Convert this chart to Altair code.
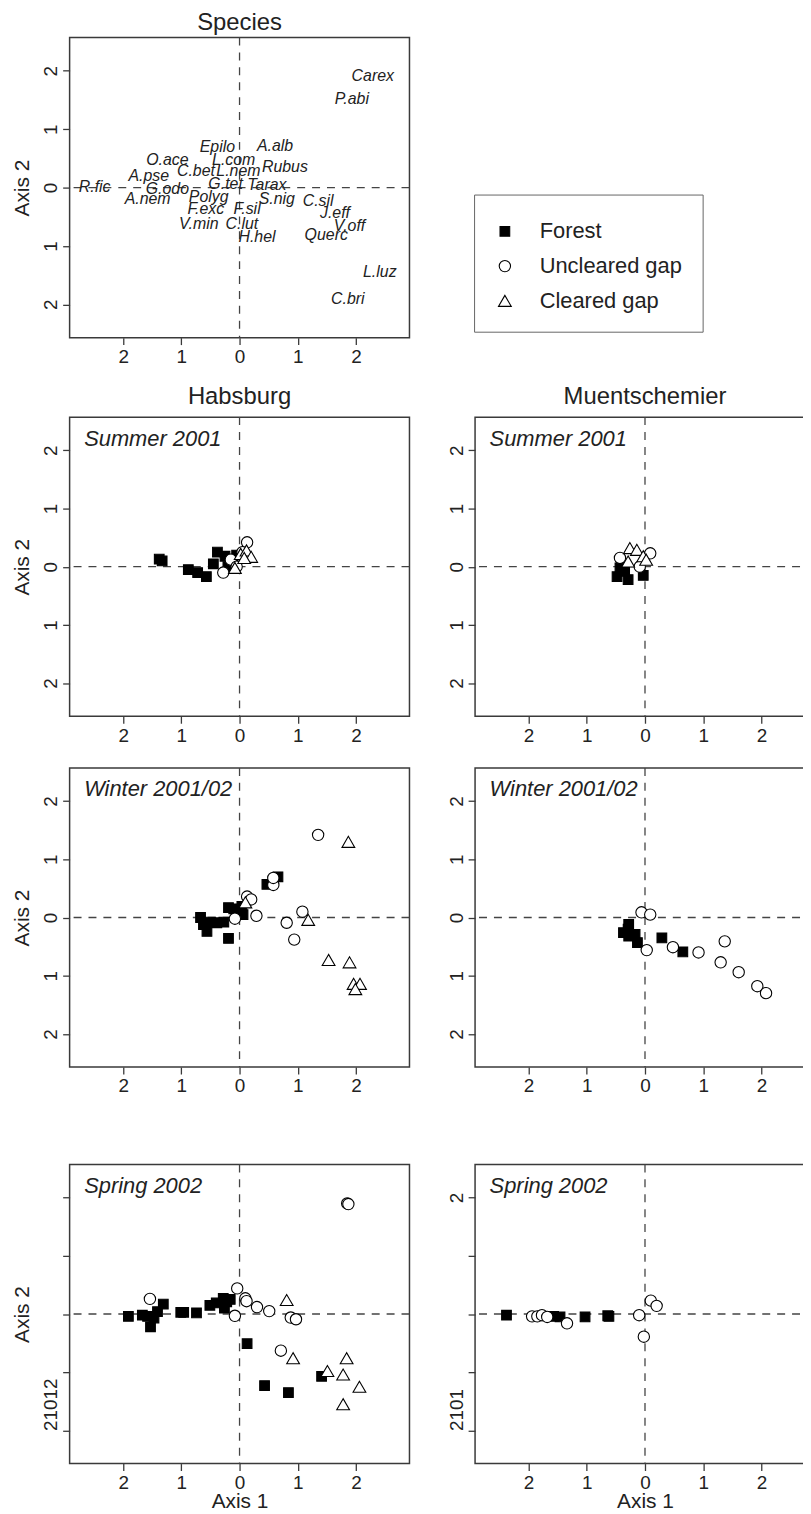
import altair as alt
import pandas as pd

FONT = "Liberation Sans"
INK = "#222222"
FRAME = "#3a3a3a"

# ---------------- Species ordination (labels) ----------------
sp_names = ["Carex", "P.abi", "Epilo", "A.alb", "O.ace", "L.com", "Rubus", "A.pse",
            "C.bet", "L.nem", "R.fic", "G.odo", "G.tet", "Tarax", "A.nem", "Polyg",
            "S.nig", "C.sil", "F.exc", "F.sil", "J.eff", "V.min", "C.lut", "V.off",
            "Querc", "H.hel", "L.luz", "C.bri"]
sp_x = [2.29, 1.93, -0.38, 0.61, -1.24, -0.10, 0.78, -1.56,
        -0.75, -0.02, -2.49, -1.24, -0.24, 0.47, -1.58, -0.53,
        0.64, 1.35, -0.58, 0.13, 1.64, -0.70, 0.04, 1.89,
        1.49, 0.30, 2.41, 1.86]
sp_y = [1.91, 1.52, 0.70, 0.72, 0.48, 0.48, 0.36, 0.19,
        0.29, 0.29, 0.01, -0.02, 0.06, 0.04, -0.19, -0.17,
        -0.19, -0.23, -0.37, -0.36, -0.43, -0.63, -0.63, -0.65,
        -0.81, -0.85, -1.44, -1.91]

groups = ["Forest", "Uncleared gap", "Cleared gap"]

# ---------------- Habsburg ----------------
hab_sum_x = [-1.38, -1.33, -0.88, -0.72, -0.57, -0.45, -0.38, -0.25, -0.12, -0.20, -0.05,
             -0.28, -0.15, 0.13, 0.05, -0.05,
             -0.08, 0.02, 0.12, 0.20, 0.08]
hab_sum_y = [0.13, 0.10, -0.05, -0.10, -0.17, 0.05, 0.25, 0.18, 0.12, 0.00, 0.20,
             -0.10, 0.12, 0.42, 0.25, 0.00,
             -0.02, 0.22, 0.28, 0.17, 0.15]
hab_sum_n = [11, 5, 5]

hab_win_x = [-0.67, -0.62, -0.56, -0.50, -0.39, -0.27, -0.19, -0.19, -0.10, 0.04, 0.06, 0.47, 0.66,
             -0.08, 0.13, 0.20, 0.29, 0.58, 0.58, 0.81, 0.94, 1.08, 1.35,
             0.10, 1.18, 1.53, 1.87, 1.89, 1.96, 2.07, 1.99]
hab_win_y = [0.00, -0.12, -0.24, -0.08, -0.09, -0.08, -0.36, 0.17, 0.15, 0.19, 0.05, 0.57, 0.70,
             -0.02, 0.36, 0.31, 0.03, 0.56, 0.68, -0.09, -0.38, 0.10, 1.42,
             0.26, -0.04, -0.73, 1.30, -0.77, -1.14, -1.14, -1.23]
hab_win_n = [13, 10, 8]

hab_spr_x = [-1.91, -1.67, -1.58, -1.53, -1.47, -1.41, -1.31, -1.01, -0.96, -0.74, -0.51, -0.40,
             -0.28, -0.22, -0.26, -0.16, 0.13, 0.43, 0.84, 1.41,
             -1.54, -0.04, 0.10, 0.12, 0.30, 0.51, -0.08, 0.88, 0.97, 0.71, 1.85, 1.87,
             0.81, 0.92, 1.51, 1.84, 1.78, 2.06, 1.78]
hab_spr_y = [-0.04, -0.02, -0.04, -0.22, -0.07, 0.04, 0.17, 0.03, 0.03, 0.02, 0.15, 0.19,
             0.27, 0.21, 0.10, 0.25, -0.51, -1.23, -1.35, -1.07,
             0.26, 0.44, 0.27, 0.22, 0.12, 0.05, -0.03, -0.06, -0.09, -0.63, 1.90, 1.89,
             0.24, -0.76, -0.98, -0.76, -1.04, -1.25, -1.55]
hab_spr_n = [20, 12, 7]

# ---------------- Muentschemier ----------------
mue_sum_x = [-0.48, -0.29, -0.03, -0.43, -0.35,
             -0.43, -0.09, 0.09,
             -0.26, -0.14, -0.03, -0.29, 0.02]
mue_sum_y = [-0.17, -0.22, -0.15, -0.02, -0.08,
             0.15, 0.00, 0.23,
             0.32, 0.29, 0.18, 0.09, 0.12]
mue_sum_n = [5, 3, 5]

mue_win_x = [-0.28, -0.37, -0.28, -0.17, -0.13, 0.29, 0.65, -0.29,
             -0.06, 0.09, 0.03, 0.48, 0.92, 1.37, 1.30, 1.61, 1.93, 2.08]
mue_win_y = [-0.12, -0.26, -0.32, -0.29, -0.43, -0.35, -0.59, -0.20,
             0.09, 0.05, -0.56, -0.51, -0.60, -0.41, -0.77, -0.94, -1.18, -1.30]
mue_win_n = [8, 10, 0]

mue_spr_x = [-2.38, -1.57, -1.46, -1.03, -0.64, -0.62,
             -1.94, -1.85, -1.77, -1.68, -1.34, -0.10, 0.10, 0.20, -0.02]
mue_spr_y = [-0.02, -0.04, -0.05, -0.05, -0.03, -0.04,
             -0.04, -0.04, -0.02, -0.05, -0.16, -0.02, 0.23, 0.14, -0.39]
mue_spr_n = [6, 9, 0]

TICKS = [-2, -1, 0, 1, 2]
XDOM = [-2.92, 2.92]
YDOM = [-2.57, 2.57]
W, H = 342, 301
DASH = [8, 7]


def group_list(counts):
    out = []
    for g, n in zip(groups, counts):
        out += [g] * n
    return out


def x_enc(field, title):
    kw = dict(values=TICKS, labelExpr="'' + abs(datum.value)", grid=False, domain=False,
              tickSize=7, tickColor=FRAME, tickWidth=1.3, labelFontSize=19, labelFont=FONT,
              labelColor=INK, labelPadding=3)
    if title:
        kw.update(title=title, titleFontSize=21, titleFont=FONT, titleFontWeight="normal",
                  titleColor=INK, titlePadding=-2)
    else:
        kw.update(title=None)
    return alt.X(field, type="quantitative", scale=alt.Scale(domain=XDOM, nice=False, zero=False),
                 axis=alt.Axis(**kw))


def y_enc(field, title, label_expr="'' + abs(datum.value)", align="center"):
    kw = dict(values=TICKS, labelExpr=label_expr, grid=False, domain=False,
              tickSize=7, tickColor=FRAME, tickWidth=1.3, labelFontSize=19, labelFont=FONT,
              labelColor=INK, labelAngle=270, labelAlign=align, labelBaseline="bottom",
              labelPadding=2)
    if title:
        kw.update(title=title, titleFontSize=21, titleFont=FONT, titleFontWeight="normal",
                  titleColor=INK, titlePadding=9)
    else:
        kw.update(title=None)
    return alt.Y(field, type="quantitative", scale=alt.Scale(domain=YDOM, nice=False, zero=False),
                 axis=alt.Axis(**kw))


def zero_lines():
    z = pd.DataFrame({"v": [0.0]})
    v = alt.Chart(z).mark_rule(color="#444444", strokeDash=DASH, strokeWidth=1.3).encode(x="v:Q")
    h = alt.Chart(z).mark_rule(color="#444444", strokeDash=DASH, strokeWidth=1.3).encode(y="v:Q")
    return v, h


def site_panel(xs, ys, counts, label, title=None, xtitle=None, ytitle=None,
               ylabel_expr="'' + abs(datum.value)", yalign="center"):
    df = pd.DataFrame({"ax1": xs, "ax2": ys, "group": group_list(counts)})
    df["order"] = range(len(df))
    v, h = zero_lines()
    pts = alt.Chart(df).mark_point(filled=True, stroke="black", strokeWidth=1.1, opacity=1).encode(
        x=x_enc("ax1", xtitle),
        y=y_enc("ax2", ytitle, ylabel_expr, yalign),
        shape=alt.Shape("group:N", title=" ",
                        scale=alt.Scale(domain=groups, range=["square", "circle", "triangle-up"]),
                        legend=alt.Legend(orient="none", legendX=407, legendY=158,
                                          titleFontSize=5, titlePadding=1,
                                          strokeColor="#666666", fillColor="white", padding=20,
                                          rowPadding=13, labelOffset=24, labelFontSize=22,
                                          labelFont=FONT, labelColor=INK,
                                          symbolStrokeColor="black", symbolStrokeWidth=1.1)),
        fill=alt.Fill("group:N", title=" ",
                      scale=alt.Scale(domain=groups, range=["black", "white", "white"])),
        size=alt.Size("group:N", title=" ",
                      scale=alt.Scale(domain=groups, range=[95, 165, 220])),
        order="order:Q",
    )
    lab = alt.Chart(pd.DataFrame({"lx": [-2.67], "ly": [2.2], "t": [label]})).mark_text(
        align="left", baseline="middle", fontStyle="italic", fontSize=22, font=FONT, color=INK
    ).encode(x="lx:Q", y="ly:Q", text="t:N")
    ch = alt.layer(v, h, pts, lab).properties(width=W, height=H)
    if title:
        ch = ch.properties(title=alt.Title(title, fontSize=24, font=FONT, fontWeight="normal",
                                           color=INK, offset=8))
    return ch


# Species panel
sp_df = pd.DataFrame({"ax1": sp_x, "ax2": sp_y, "name": sp_names})
v0, h0 = zero_lines()
sp_text = alt.Chart(sp_df).mark_text(fontStyle="italic", fontSize=16, font=FONT, color=INK).encode(
    x=x_enc("ax1", None), y=y_enc("ax2", "Axis 2"), text="name:N")
species = alt.layer(v0, h0, sp_text).properties(
    width=W, height=302,
    title=alt.Title("Species", fontSize=24, font=FONT, fontWeight="normal", color=INK, offset=2))

hab_sum = site_panel(hab_sum_x, hab_sum_y, hab_sum_n, "Summer 2001", title="Habsburg", ytitle="Axis 2")
mue_sum = site_panel(mue_sum_x, mue_sum_y, mue_sum_n, "Summer 2001", title="Muentschemier")
hab_win = site_panel(hab_win_x, hab_win_y, hab_win_n, "Winter 2001/02", ytitle="Axis 2")
mue_win = site_panel(mue_win_x, mue_win_y, mue_win_n, "Winter 2001/02")
hab_spr = site_panel(hab_spr_x, hab_spr_y, hab_spr_n, "Spring 2002", xtitle="Axis 1", ytitle="Axis 2",
                     ylabel_expr="datum.value == -2 ? '21012' : ''", yalign="left")
mue_spr = site_panel(mue_spr_x, mue_spr_y, mue_spr_n, "Spring 2002", xtitle="Axis 1",
                     ylabel_expr="datum.value == -2 ? '2101' : (datum.value == 2 ? '2' : '')",
                     yalign={"condition": {"test": "datum.value == -2", "value": "left"}, "value": "center"})

RES = dict(shape="shared", fill="shared", size="shared")


def shared(c):
    return c.resolve_scale(**RES).resolve_legend(**RES)


row2 = shared(alt.hconcat(hab_sum, mue_sum, spacing=35))
row3 = shared(alt.hconcat(hab_win, mue_win, spacing=35))
row4 = shared(alt.hconcat(hab_spr, mue_spr, spacing=35))

inner = shared(alt.vconcat(row2, row3, spacing=20))
inner2 = shared(alt.vconcat(inner, row4, spacing=66))

chart = shared(alt.vconcat(species, inner2, spacing=16)).properties(
    padding={"left": 3, "top": -3, "right": -14, "bottom": -5},
    background="white",
).configure_view(stroke=FRAME, strokeWidth=1.5)

chart.save("out.html", embed_options={"renderer": "svg", "actions": False})
